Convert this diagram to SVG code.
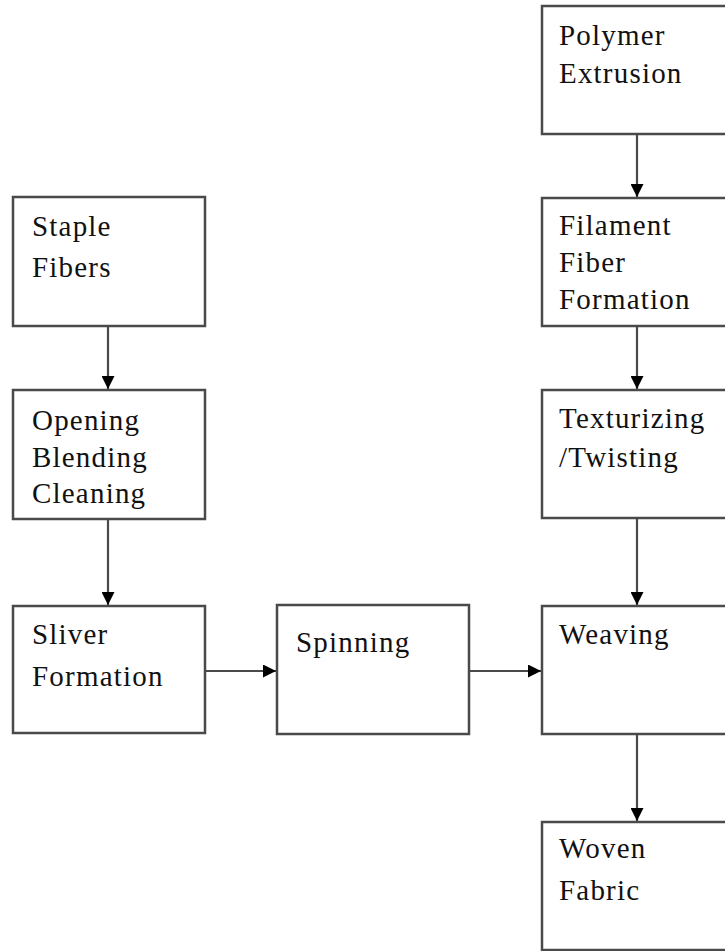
<svg xmlns="http://www.w3.org/2000/svg" width="725" height="951" viewBox="0 0 725 951">
<style>
.box{fill:#ffffff;stroke:#4a4a4a;stroke-width:2.5}
.lbl{font-family:"Liberation Serif","Times New Roman",serif;font-size:29px;letter-spacing:1.2px;fill:#111}
.conn line{stroke:#4a4a4a;stroke-width:2.2;fill:none}
</style>
<defs>
<marker id="ah" viewBox="0 0 10 10" refX="10" refY="5" markerWidth="13" markerHeight="13" markerUnits="userSpaceOnUse" orient="auto">
<path d="M0,0 L10,5 L0,10 z" fill="#000"/>
</marker>
</defs>
<rect width="725" height="951" fill="#ffffff"/>
<g id="polymer"><rect class="box" x="542" y="6" width="200" height="128"/><text class="lbl" x="559" y="45">Polymer</text><text class="lbl" x="559" y="83">Extrusion</text></g>
<g id="filament"><rect class="box" x="542" y="198" width="200" height="128"/><text class="lbl" x="559" y="235">Filament</text><text class="lbl" x="559" y="272">Fiber</text><text class="lbl" x="559" y="309">Formation</text></g>
<g id="texturizing"><rect class="box" x="542" y="390" width="200" height="128"/><text class="lbl" x="559" y="428">Texturizing</text><text class="lbl" x="559" y="467">/Twisting</text></g>
<g id="weaving"><rect class="box" x="542" y="606" width="200" height="128"/><text class="lbl" x="559" y="644">Weaving</text></g>
<g id="woven"><rect class="box" x="542" y="822" width="200" height="128"/><text class="lbl" x="559" y="858">Woven</text><text class="lbl" x="559" y="900">Fabric</text></g>
<g id="staple"><rect class="box" x="13" y="197" width="192" height="129"/><text class="lbl" x="32" y="236">Staple</text><text class="lbl" x="32" y="277">Fibers</text></g>
<g id="opening"><rect class="box" x="13" y="390" width="192" height="129"/><text class="lbl" x="32" y="430">Opening</text><text class="lbl" x="32" y="467">Blending</text><text class="lbl" x="32" y="503">Cleaning</text></g>
<g id="sliver"><rect class="box" x="13" y="606" width="192" height="127"/><text class="lbl" x="32" y="644">Sliver</text><text class="lbl" x="32" y="686">Formation</text></g>
<g id="spinning"><rect class="box" x="277" y="605" width="192" height="129"/><text class="lbl" x="296" y="652">Spinning</text></g>
<g id="connectors" class="conn">
<line x1="108" y1="326" x2="108" y2="389" marker-end="url(#ah)"/>
<line x1="108" y1="519" x2="108" y2="605" marker-end="url(#ah)"/>
<line x1="637" y1="134" x2="637" y2="197" marker-end="url(#ah)"/>
<line x1="637" y1="326" x2="637" y2="389" marker-end="url(#ah)"/>
<line x1="637" y1="518" x2="637" y2="605" marker-end="url(#ah)"/>
<line x1="637" y1="734" x2="637" y2="821" marker-end="url(#ah)"/>
<line x1="205" y1="671" x2="276" y2="671" marker-end="url(#ah)"/>
<line x1="469" y1="671" x2="541" y2="671" marker-end="url(#ah)"/>
</g>
</svg>
